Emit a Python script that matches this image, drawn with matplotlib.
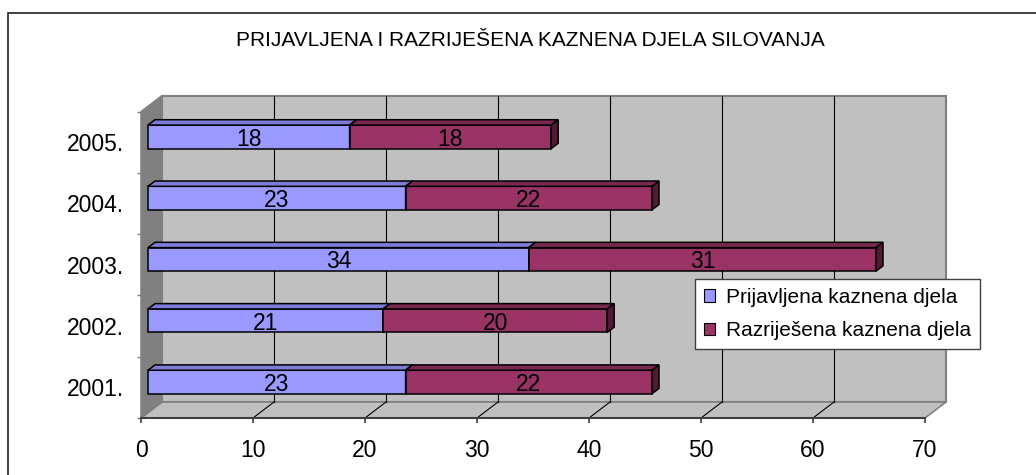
import matplotlib
matplotlib.use('Agg')
import matplotlib.pyplot as plt
from matplotlib.patches import Polygon, Rectangle, Patch
from matplotlib.lines import Line2D
from matplotlib.transforms import IdentityTransform

# ---- data ----
years = ['2001.', '2002.', '2003.', '2004.', '2005.']
prijavljena = [23, 21, 34, 23, 18]
razrijesena = [22, 20, 31, 22, 18]
x_ticks = [0, 10, 20, 30, 40, 50, 60, 70]
series_names = ['Prijavljena kaznena djela', 'Razriješena kaznena djela']
title = 'PRIJAVLJENA I RAZRIJEŠENA KAZNENA DJELA SILOVANJA'

# ---- style ----
plt.rcParams['font.family'] = ['Liberation Sans', 'DejaVu Sans']
FS = 16.5
blue_front, blue_top, blue_side = '#9999FF', '#7C7CD6', '#5C5CA8'
red_front, red_top, red_side = '#993366', '#7A2850', '#4F1A35'
wall, wall_edge, side_wall = '#C0C0C0', '#808080', '#808080'

W, H = 1036, 475
fig = plt.figure(figsize=(W / 100, H / 100), dpi=100)
ax = fig.add_axes([141 / W, (H - 418) / H, (925 - 141) / W, (418 - 111.5) / H])
ax.set_xlim(0, 70)
ax.set_ylim(0, len(years))
ax.set_autoscale_on(False)
ax.patch.set_visible(False)

ident = IdentityTransform()
DX, DY = 21, 16  # full depth offset in pixels


def P(x, y, d):
    px, py = ax.transData.transform((x, y))
    return (px + d * DX, py + d * DY)


def poly(pts, fc, ec, lw, z):
    ax.add_patch(Polygon(pts, closed=True, fc=fc, ec=ec, lw=lw,
                         transform=ident, zorder=z, clip_on=False,
                         joinstyle='miter'))


def line(p0, p1, color, lw, z):
    ax.add_line(Line2D([p0[0], p1[0]], [p0[1], p1[1]], color=color, lw=lw,
                       transform=ident, zorder=z, clip_on=False))


xmax = x_ticks[-1]
ny = len(years)
# walls
poly([P(0, 0, 1), P(xmax, 0, 1), P(xmax, ny, 1), P(0, ny, 1)], wall, wall_edge, 1.5, 0.5)
poly([P(0, 0, 0), P(xmax, 0, 0), P(xmax, 0, 1), P(0, 0, 1)], wall, wall_edge, 1.2, 0.6)
poly([P(0, 0, 0), P(0, 0, 1), P(0, ny, 1), P(0, ny, 0)], side_wall, side_wall, 1.0, 0.6)
for v in x_ticks[1:-1]:
    line(P(v, 0, 1), P(v, ny, 1), 'black', 0.8, 0.7)
    line(P(v, 0, 0), P(v, 0, 1), 'black', 0.8, 0.7)

# bars
h = 0.384
d0, d1 = 1 / 3, 2 / 3
for i in range(ny):
    y0, y1 = i + 0.5 - h / 2, i + 0.5 + h / 2
    start = 0
    for val, (cf, ct, cs) in zip((prijavljena[i], razrijesena[i]),
                                  ((blue_front, blue_top, blue_side),
                                   (red_front, red_top, red_side))):
        end = start + val
        poly([P(start, y0, d0), P(end, y0, d0), P(end, y1, d0), P(start, y1, d0)], cf, 'black', 1.1, 3)
        poly([P(start, y1, d0), P(end, y1, d0), P(end, y1, d1), P(start, y1, d1)], ct, 'black', 1.1, 3)
        poly([P(end, y0, d0), P(end, y0, d1), P(end, y1, d1), P(end, y1, d0)], cs, 'black', 1.1, 3)
        cx, cy = P(start + val / 2, i + 0.5, d0)
        ax.text(cx, cy, str(val), transform=ident, ha='center', va='center_baseline',
                fontsize=FS, zorder=4)
        start = end

# axes / ticks
for s in ('top', 'right'):
    ax.spines[s].set_visible(False)
ax.spines['bottom'].set_color('#404040')
ax.spines['bottom'].set_linewidth(1.5)
ax.spines['left'].set_color('#808080')
ax.spines['left'].set_linewidth(1.0)
ax.set_xticks(x_ticks)
ax.set_xticklabels([str(v) for v in x_ticks])
ax.tick_params(axis='x', length=3.6, width=1.2, color='#404040', labelsize=FS, pad=11.5)
ax.set_yticks(range(ny + 1))
ax.set_yticklabels([])
ax.tick_params(axis='y', which='major', length=3, width=1, color='#808080')
ax.set_yticks([i + 0.5 for i in range(ny)], minor=True)
ax.set_yticklabels(years, minor=True)
ax.tick_params(axis='y', which='minor', length=0, labelsize=FS, pad=12)

# legend
handles = [Patch(fc=blue_front, ec='black', lw=0.8), Patch(fc=red_front, ec='black', lw=0.8)]
leg = ax.legend(handles, series_names, loc='upper left',
                bbox_to_anchor=(695 / W, 1 - 279 / H), bbox_transform=fig.transFigure,
                fontsize=15, frameon=True, fancybox=False, edgecolor='#404040',
                framealpha=1, handlelength=0.55, handleheight=0.55,
                handletextpad=0.5, labelspacing=0.7, borderpad=0.42, borderaxespad=0)
leg.get_frame().set_linewidth(1.0)
leg.set_zorder(5)

# title
fig.text(530 / W, 1 - 41 / H, title, ha='center', va='center', fontsize=15)

# outer frame
fig.add_artist(Rectangle((7.5 / W, -0.1), 1.2, (H - 13) / H + 0.1, fill=False,
                         ec='#222222', lw=1.2, transform=fig.transFigure))

fig.savefig('out.png', dpi=100)
